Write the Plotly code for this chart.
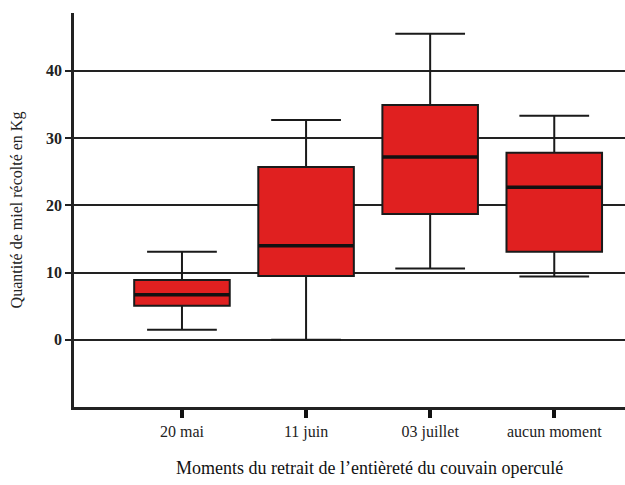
import plotly.graph_objects as go

categories = ["20 mai", "11 juin", "03 juillet", "aucun moment"]
q1 = [5.05, 9.5, 18.7, 13.1]
median = [6.7, 14.0, 27.2, 22.7]
q3 = [8.9, 25.7, 34.9, 27.8]
lower = [1.5, 0.0, 10.6, 9.4]
upper = [13.1, 32.7, 45.5, 33.3]
y_ticks = [0, 10, 20, 30, 40]
x_title = "Moments du retrait de l’entièreté du couvain operculé"
y_title = "Quantité de miel récolté en Kg"

fig = go.Figure()
fig.add_trace(go.Box(
    x=categories, q1=q1, median=median, q3=q3,
    lowerfence=lower, upperfence=upper,
    fillcolor="#E02020", line=dict(color="#1a1a1a", width=2),
    width=0.77, whiskerwidth=0.73, boxpoints=False, showlegend=False,
    hoverinfo="skip",
))
# thicker median lines
fig.add_trace(go.Box(
    x=categories, q1=median, median=median, q3=median,
    lowerfence=median, upperfence=median,
    fillcolor="rgba(0,0,0,0)", line=dict(color="#111111", width=3.5),
    width=0.77, whiskerwidth=0, boxpoints=False, showlegend=False,
    hoverinfo="skip",
))

font = "Liberation Serif, Times New Roman, serif"
fig.update_layout(
    width=625, height=485,
    margin=dict(l=74, r=0, t=13, b=78),
    paper_bgcolor="white", plot_bgcolor="white",
    boxmode="overlay",
    font=dict(family=font, color="#222"),
    xaxis=dict(
        type="category", range=[-0.87, 3.57],
        showgrid=False, showline=True, linecolor="#222", linewidth=2.5,
        ticks="outside", ticklen=8, tickwidth=3.5, tickcolor="#111",
        tickfont=dict(family=font, size=16, color="#222"),
    ),
    yaxis=dict(
        range=[-10, 48.6], tickvals=y_ticks,
        showgrid=True, gridcolor="#222", gridwidth=2,
        zeroline=False,
        showline=True, linecolor="#222", linewidth=2.5,
        ticks="outside", ticklen=6, tickwidth=2, tickcolor="#222",
        tickfont=dict(family=font, size=16, color="#222", weight="bold"),
        title=dict(text=y_title,
                   font=dict(family=font, size=16, color="#222"), standoff=20),
    ),
    annotations=[dict(
        text=x_title, xref="paper", yref="paper", x=0.537, y=-0.155,
        xanchor="center", yanchor="middle", showarrow=False,
        font=dict(family=font, size=18, color="#111"),
    )],
)

fig.write_html("out.html", config={"displayModeBar": False},
               post_script="document.body.style.margin='0';document.body.style.overflow='hidden';")
